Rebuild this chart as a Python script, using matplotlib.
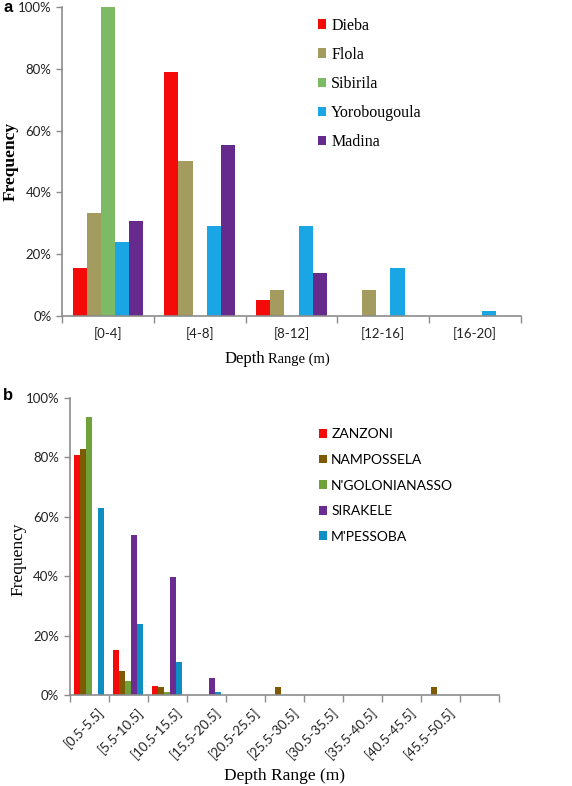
import numpy as np
import matplotlib
matplotlib.use('Agg')
import matplotlib.pyplot as plt
import matplotlib.transforms as mtransforms
from matplotlib.ticker import PercentFormatter, FixedLocator, NullFormatter

# panel a data (fractions)
cats_a = ['[0-4]', '[4-8]', '[8-12]', '[12-16]', '[16-20]']
series_a = ['Dieba', 'Flola', 'Sibirila', 'Yorobougoula', 'Madina']
dieba = [0.156, 0.789, 0.052, 0.0, 0.0]
flola = [0.333, 0.500, 0.083, 0.083, 0.0]
sibirila = [1.000, 0.0, 0.0, 0.0, 0.0]
yorobougoula = [0.240, 0.292, 0.292, 0.154, 0.016]
madina = [0.309, 0.552, 0.138, 0.0, 0.0]
values_a = [dieba, flola, sibirila, yorobougoula, madina]
colors_a = ['#f50a0a', '#a39c5e', '#7dba65', '#1aa5e5', '#662a8c']

# panel b data (fractions)
cats_b = ['[0.5-5.5]', '[5.5-10.5]', '[10.5-15.5]', '[15.5-20.5]', '[20.5-25.5]',
          '[25.5-30.5]', '[30.5-35.5]', '[35.5-40.5]', '[40.5-45.5]', '[45.5-50.5]', '']
series_b = ['ZANZONI', 'NAMPOSSELA', "N'GOLONIANASSO", 'SIRAKELE', "M'PESSOBA"]
zanzoni = [0.807, 0.152, 0.032, 0, 0, 0, 0, 0, 0, 0, 0]
nampossela = [0.826, 0.083, 0.027, 0, 0, 0.027, 0, 0, 0, 0.027, 0]
ngolonianasso = [0.935, 0.048, 0.012, 0, 0, 0, 0, 0, 0, 0, 0]
sirakele = [0.0, 0.538, 0.398, 0.057, 0, 0, 0, 0, 0, 0, 0]
mpessoba = [0.630, 0.239, 0.112, 0.010, 0, 0, 0, 0, 0, 0, 0]
values_b = [zanzoni, nampossela, ngolonianasso, sirakele, mpessoba]
colors_b = ['#f50a0a', '#7f5a05', '#70a23a', '#6a2c90', '#0e8ec2']

SANS = ['Lato', 'DejaVu Sans']
SERIF = ['Liberation Serif', 'DejaVu Serif']
GRAY = '#8c8c8c'


def grouped_bars(ax, cats, values, colors, names, total=0.77):
    n = len(values)
    w = total / n
    x = np.arange(len(cats))
    for i, (vals, c, name) in enumerate(zip(values, colors, names)):
        ax.bar(x - total / 2 + w * (i + 0.5), vals, width=w, color=c, label=name,
               edgecolor='none', zorder=2)
    ax.set_xlim(-0.5, len(cats) - 0.5)
    ax.set_ylim(0, 1.0)
    ax.yaxis.set_major_locator(FixedLocator([0, 0.2, 0.4, 0.6, 0.8, 1.0]))
    ax.yaxis.set_major_formatter(PercentFormatter(1.0, decimals=0))
    ax.set_xticks(x)
    ax.set_xticks(np.arange(len(cats) + 1) - 0.5, minor=True)
    ax.xaxis.set_minor_formatter(NullFormatter())
    ax.tick_params(axis='x', which='major', length=0)
    ax.tick_params(axis='x', which='minor', length=5, color=GRAY, width=1)
    ax.tick_params(axis='y', length=4, color=GRAY, width=1)
    for s in ['top', 'right']:
        ax.spines[s].set_visible(False)
    for s in ['left', 'bottom']:
        ax.spines[s].set_color(GRAY)
        ax.spines[s].set_linewidth(1.2)
    for lab in ax.get_yticklabels():
        lab.set_family(SANS)
        lab.set_fontsize(9.5)
        lab.set_color('#222222')


fig = plt.figure(figsize=(5.72, 7.86), dpi=100)
W, H = 572.0, 786.0

# ---- panel a
ax1 = fig.add_axes([62 / W, 1 - 316 / H, 459 / W, 309 / H])
grouped_bars(ax1, cats_a, values_a, colors_a, series_a)
ax1.set_xticklabels(cats_a, family=SANS, fontsize=9.5, color='#222222')
ax1.tick_params(axis='x', which='major', pad=8)
fig.text(11 / W, 1 - 161 / H, 'Frequency', family=SERIF, fontsize=12.5,
         fontweight='bold', rotation=90, ha='center', va='center')
ax1.text(0.442, -0.152, 'Depth', transform=ax1.transAxes, ha='right', va='baseline',
         family=SERIF, fontsize=12)
ax1.text(0.449, -0.152, 'Range (m)', transform=ax1.transAxes, ha='left', va='baseline',
         family=SERIF, fontsize=10.5)
ax1.legend(loc='upper left', bbox_to_anchor=(0.557, 0.965), frameon=False,
           prop={'family': SERIF, 'size': 11.5}, handlelength=0.55,
           handleheight=0.55, handletextpad=0.3, labelspacing=0.82,
           borderaxespad=0, borderpad=0)
fig.text(3 / W, 1 - 8 / H, 'a', family=['Liberation Sans'], fontweight='bold',
         fontsize=12, ha='left', va='center')

# ---- panel b
ax2 = fig.add_axes([69.7 / W, 1 - 695.3 / H, 429.3 / W, 297.6 / H])
grouped_bars(ax2, cats_b, values_b, colors_b, series_b)
ax2.set_xticklabels(cats_b, family=SANS, fontsize=9.5, color='#222222',
                    rotation=45, ha='right', rotation_mode='anchor')
ax2.tick_params(axis='x', which='major', pad=6)
shift = mtransforms.ScaledTranslation(0.08, -0.02, fig.dpi_scale_trans)
for lab in ax2.get_xticklabels():
    lab.set_transform(lab.get_transform() + shift)
fig.text(18.5 / W, 1 - 559 / H, 'Frequency', family=SERIF, fontsize=12.5,
         rotation=90, ha='center', va='center')
fig.text((69.7 + 429.3 / 2) / W, 1 - 776 / H, 'Depth Range (m)', family=SERIF,
         fontsize=12.5, ha='center', va='center')
ax2.legend(loc='upper left', bbox_to_anchor=(0.58, 0.897), frameon=False,
           prop={'family': SANS, 'size': 10}, handlelength=0.6,
           handleheight=0.6, handletextpad=0.3, labelspacing=0.98,
           borderaxespad=0, borderpad=0)
fig.text(3 / W, 1 - 396 / H, 'b', family=['Liberation Sans'], fontweight='bold',
         fontsize=12, ha='left', va='center')

fig.savefig('out.png', dpi=100)
